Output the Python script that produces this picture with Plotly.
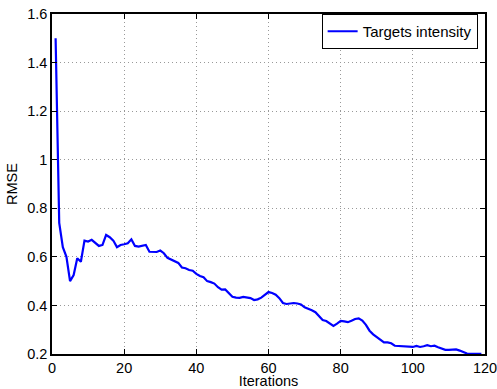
import plotly.graph_objects as go

iterations = list(range(1, 120))
rmse = [
    1.50, 0.74, 0.64, 0.60, 0.50, 0.525, 0.594, 0.58, 0.667, 0.663,
    0.670, 0.656, 0.645, 0.649, 0.690, 0.681, 0.667, 0.640, 0.649, 0.652,
    0.656, 0.672, 0.645, 0.642, 0.645, 0.649, 0.621, 0.619, 0.620, 0.626,
    0.615, 0.596, 0.588, 0.581, 0.575, 0.556, 0.553, 0.546, 0.543, 0.530,
    0.521, 0.516, 0.500, 0.496, 0.490, 0.475, 0.465, 0.466, 0.452, 0.436,
    0.432, 0.431, 0.435, 0.433, 0.430, 0.422, 0.425, 0.432, 0.443, 0.455,
    0.451, 0.444, 0.430, 0.410, 0.406, 0.408, 0.410, 0.408, 0.404, 0.392,
    0.387, 0.380, 0.372, 0.355, 0.340, 0.336, 0.327, 0.316, 0.325, 0.336,
    0.334, 0.331, 0.337, 0.344, 0.347, 0.338, 0.320, 0.296, 0.281, 0.270,
    0.256, 0.248, 0.248, 0.244, 0.234, 0.233, 0.233, 0.229, 0.228, 0.229,
    0.233, 0.229, 0.232, 0.236, 0.232, 0.234, 0.228, 0.221, 0.217, 0.217,
    0.219, 0.219, 0.214, 0.208, 0.202, 0.201, 0.201, 0.201, 0.201,
]
series_name = "Targets intensity"
x_ticks = [0, 20, 40, 60, 80, 100, 120]
y_ticks = [0.2, 0.4, 0.6, 0.8, 1.0, 1.2, 1.4, 1.6]
y_tick_text = ["0.2", "0.4", "0.6", "0.8", "1", "1.2", "1.4", "1.6"]

font_family = "Liberation Sans, Arial, Helvetica, sans-serif"

fig = go.Figure()
fig.add_trace(go.Scatter(
    x=iterations, y=rmse, mode="lines", name=series_name,
    line=dict(color="#0000ff", width=2.2),
))

axis_common = dict(
    showline=True, linecolor="black", linewidth=1.5, mirror="ticks",
    ticks="inside", ticklen=5, tickcolor="black", tickwidth=1,
    showgrid=True, gridcolor="#999999", griddash="1px,3px", gridwidth=1,
    zeroline=False, automargin=False, ticklabeloverflow="allow",
    tickfont=dict(family=font_family, size=14.5, color="black"),
)

fig.update_layout(
    width=497, height=389,
    margin=dict(l=52, r=12, t=14, b=35),
    paper_bgcolor="white", plot_bgcolor="white",
    font=dict(family=font_family, color="black"),
    showlegend=True,
    legend=dict(
        x=0.983, y=1.0, xanchor="right", yanchor="top",
        bgcolor="white", bordercolor="black", borderwidth=1,
        font=dict(family=font_family, size=15, color="black"),
        itemwidth=30, tracegroupgap=0,
    ),
    xaxis=dict(
        range=[0, 120], tickvals=x_ticks,
        title=dict(text="Iterations", font=dict(family=font_family, size=14.5), standoff=2),
        **axis_common,
    ),
    yaxis=dict(
        range=[0.2, 1.6], tickvals=y_ticks, ticktext=y_tick_text,
        title=dict(text="RMSE", font=dict(family=font_family, size=14.5), standoff=6),
        **axis_common,
    ),
)

fig.write_html(
    "out.html",
    config={"displayModeBar": False},
    post_script="document.body.style.margin='0';document.body.style.overflow='hidden';",
)
